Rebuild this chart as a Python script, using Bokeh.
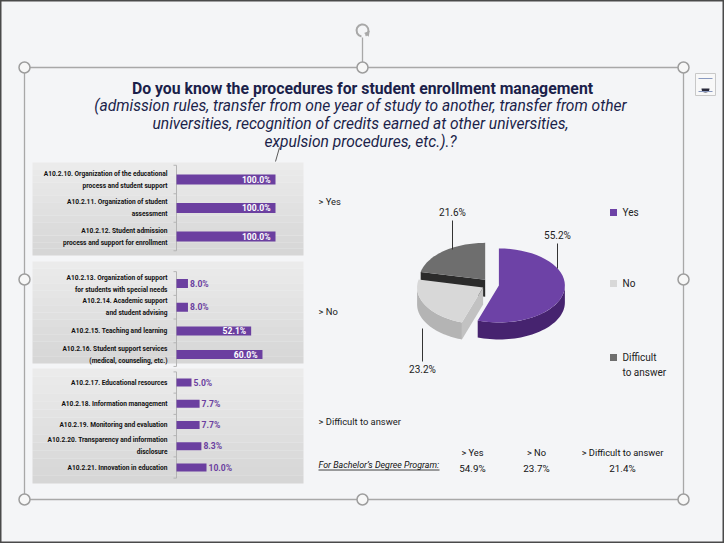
import math
from bokeh.plotting import figure
from bokeh.models import Range1d
from bokeh.core.properties import value
from bokeh.embed import file_html
from bokeh.resources import INLINE

# ---------------- data ----------------
title_bold = "Do you know the procedures for student enrollment management"
title_lines = [
    "(admission rules, transfer from one year of study to another, transfer from other",
    "universities, recognition of credits earned at other universities,",
    "expulsion procedures, etc.).?",
]

yes_labels = ["A10.2.10. Organization of the educational\nprocess and student support",
              "A10.2.11. Organization of student\nassessment",
              "A10.2.12. Student admission\nprocess and support for enrollment"]
yes_values = [100.0, 100.0, 100.0]

no_labels = ["A10.2.13. Organization of support\nfor students with special needs",
             "A10.2.14. Academic support\nand student advising",
             "A10.2.15. Teaching and learning",
             "A10.2.16. Student support services\n(medical, counseling, etc.)"]
no_values = [8.0, 8.0, 52.1, 60.0]

diff_labels = ["A10.2.17. Educational resources",
               "A10.2.18. Information management",
               "A10.2.19. Monitoring and evaluation",
               "A10.2.20. Transparency and information\ndisclosure",
               "A10.2.21. Innovation in education"]
diff_values = [5.0, 7.7, 7.7, 8.3, 10.0]

group_names = ["> Yes", "> No", "> Difficult to answer"]

pie_labels = ["Yes", "No", "Difficult\nto answer"]
pie_values = [55.2, 23.2, 21.6]

bachelor_heads = ["> Yes", "> No", "> Difficult to answer"]
bachelor_values = [54.9, 23.7, 21.4]

# ---------------- style ----------------
PURPLE = "#6b3fa0"
NAVY = "#1b1f4a"
BG = "#f4f5f7"
FONT = value("Roboto")
W, H = 724, 543

p = figure(width=W, height=H, x_range=Range1d(0, W), y_range=Range1d(H, 0),
           output_backend="svg", toolbar_location=None, min_border=0,
           x_axis_location=None, y_axis_location=None)
p.grid.visible = False
p.background_fill_color = BG
p.border_fill_color = BG
p.outline_line_color = "#4a4a4a"
p.outline_line_width = 2

# ---------------- selection frame decoration ----------------
fx0, fx1, fy0, fy1 = 24, 683, 67, 499
p.multi_line(xs=[[fx0, fx1, fx1, fx0, fx0], [362, 362]],
             ys=[[fy0, fy0, fy1, fy1, fy0], [37, fy0]],
             line_color="#a8a8a8", line_width=1.3)
hx = [fx0, 362, fx1, fx0, fx1, fx0, 362, fx1]
hy = [fy0, fy0, fy0, 279, 279, fy1, fy1, fy1]
p.scatter(hx, hy, size=11, fill_color="#f7f7f7", line_color="#9d9d9d", line_width=1.5)
p.arc(x=[362], y=[30], radius=6, radius_units="screen", start_angle=math.radians(-60),
      end_angle=math.radians(260), line_color="#a8a8a8", line_width=2)
p.scatter([367], [33], marker="triangle", size=6, angle=math.radians(200),
          fill_color="#a8a8a8", line_color=None)
# small icon top-right
p.quad(left=[695], right=[715], top=[73], bottom=[95], fill_color="#f8f8f8",
       line_color="#c8c8c8", line_width=1)
p.wedge(x=[705], y=[88], radius=4, radius_units="screen", start_angle=0, end_angle=math.pi,
        direction="clock", fill_color="#2a2a3a", line_color=None)
p.multi_line(xs=[[698, 712], [698, 712]], ys=[[78, 78], [91, 91]], line_color="#8a9ac0", line_width=1)
# stray connector line
p.line([279, 275], [147, 161], line_color="#333333", line_width=0.8)

# ---------------- title ----------------
p.text(x=[362], y=[88], text=[title_bold], text_font=FONT, text_font_size="15.8px",
       text_font_style="bold", text_color=NAVY, text_align="center", text_baseline="middle")
p.text(x=[360] * 3, y=[105, 123, 141], text=title_lines, text_font=FONT,
       text_font_size="15.6px", text_font_style="italic", text_color=NAVY,
       text_align="center", text_baseline="middle")

# ---------------- bar panels ----------------
BASE_X = 176


def lerp_color(c0, c1, t):
    a = [int(c0[i:i + 2], 16) for i in (1, 3, 5)]
    b = [int(c1[i:i + 2], 16) for i in (1, 3, 5)]
    return "#%02x%02x%02x" % tuple(round(a[k] + (b[k] - a[k]) * t) for k in range(3))


panels = [
    # labels, values, panel top, panel bottom, first row center, row spacing, px per %, bar height
    (yes_labels, yes_values, 162, 255, 179, 28.5, 0.99, 10, "g1", 201),
    (no_labels, no_values, 261, 363, 283, 23.7, 1.433, 9, "g2", 311),
    (diff_labels, diff_values, 368, 483, 382, 21.25, 3.0, 8, "g3", 421),
]

for gi, (labs, vals, ptop, pbot, c0, step, k, bh, rname, gy) in enumerate(panels):
    # gradient background
    n = 14
    tops = [ptop + (pbot - ptop) * j / n for j in range(n)]
    bots = [ptop + (pbot - ptop) * (j + 1) / n for j in range(n)]
    cols = [lerp_color("#ebebeb", "#d6d6d6", j / (n - 1)) for j in range(n)]
    p.quad(left=[32] * n, right=[303] * n, top=tops, bottom=bots, fill_color=cols, line_color=None)

    # panel-specific value scale
    start = -BASE_X / k
    p.extra_x_ranges[rname] = Range1d(start, start + W / k)

    ys = [c0 + i * step for i in range(len(vals))]
    # axis line with ticks
    a_top, a_bot = ys[0] - step / 2, ys[-1] + step / 2
    p.segment(x0=[0], y0=[a_top], x1=[0], y1=[a_bot], x_range_name=rname,
              line_color="#b4b4b4", line_width=1)
    tick_y = [a_top + i * step for i in range(len(vals) + 1)]
    p.segment(x0=[0] * len(tick_y), y0=tick_y, x1=[-3 / k] * len(tick_y), y1=tick_y,
              x_range_name=rname, line_color="#b4b4b4", line_width=1)

    p.hbar(y=ys, left=0, right=vals, height=bh, x_range_name=rname,
           fill_color=PURPLE, line_color=None)

    p.text(x=[BASE_X - 9] * len(labs), y=ys, text=labs, text_font=FONT,
           text_font_size="6.6px", text_font_style="bold", text_color="#111111",
           text_align="right", text_baseline="middle", text_line_height=1.5)

    inside = [v * k > 40 for v in vals]
    txt = ["%.1f%%" % v for v in vals]
    iy = [y for y, f in zip(ys, inside) if f]
    if iy:
        p.text(x=[v for v, f in zip(vals, inside) if f], y=iy,
               text=[t for t, f in zip(txt, inside) if f], x_range_name=rname,
               x_offset=-5, text_font=FONT, text_font_size="8.6px", text_font_style="bold",
               text_color="white", text_align="right", text_baseline="middle")
    oy = [y for y, f in zip(ys, inside) if not f]
    if oy:
        p.text(x=[v for v, f in zip(vals, inside) if not f], y=oy,
               text=[t for t, f in zip(txt, inside) if not f], x_range_name=rname,
               x_offset=2, text_font=FONT, text_font_size="8.6px", text_font_style="bold",
               text_color=PURPLE, text_align="left", text_baseline="middle")

    p.text(x=[318], y=[gy], text=[group_names[gi]], text_font=FONT, text_font_size="9.4px",
           text_color="#1a1a1a", text_align="left", text_baseline="middle")

# ---------------- 3D pie ----------------
CX, CY, RX, RY, TH, EXP, EK = 490, 284, 66, 37, 17, 8.5, 0.7
tops_c = ["#6d42a6", "#d8d8d8", "#6e6e6e"]
side_c = ["#46236f", "#b4b4b4", "#3c3c3c"]
face_c = ["#53307f", "#c2c2c2", "#2b2b2b"]

total = sum(pie_values)
bounds = [0.0]
for v in pie_values:
    bounds.append(bounds[-1] + v / total * 360.0)


def arc_pts(ox, oy, a, b, n=40):
    xs, ys = [], []
    for j in range(n + 1):
        t = math.radians(a + (b - a) * j / n)
        xs.append(ox + RX * math.sin(t))
        ys.append(oy - RY * math.cos(t))
    return xs, ys


for i in [2, 1, 0]:
    a0, a1 = bounds[i], bounds[i + 1]
    mid = math.radians((a0 + a1) / 2)
    ox = CX + EXP * math.sin(mid)
    oy = CY - EXP * EK * math.cos(mid)
    # radial cut faces
    for ang, nrm in [(a0, a0 - 90), (a1, a1 + 90)]:
        if math.cos(math.radians(nrm)) < -0.02:
            rx_ = ox + RX * math.sin(math.radians(ang))
            ry_ = oy - RY * math.cos(math.radians(ang))
            p.patch([ox, rx_, rx_, ox], [oy, ry_, ry_ + TH, oy + TH],
                    fill_color=face_c[i], line_color=None)
    # outer side
    s, e = max(a0, 90), min(a1, 270)
    if s < e:
        xs, ys = arc_pts(ox, oy, s, e)
        p.patch(xs + xs[::-1], ys + [y + TH for y in ys[::-1]],
                fill_color=side_c[i], line_color=None)
    # top face
    xs, ys = arc_pts(ox, oy, a0, a1)
    p.patch([ox] + xs, [oy] + ys, fill_color=tops_c[i], line_color=None)

# pie labels with leader lines
lab_xy = [(557, 235), (422, 369), (452, 212)]
lead = [((557, 243), (557, 268)), ((422, 361), (422, 328)), ((452, 220), (452, 249))]
p.segment(x0=[l[0][0] for l in lead], y0=[l[0][1] for l in lead],
          x1=[l[1][0] for l in lead], y1=[l[1][1] for l in lead],
          line_color="#333333", line_width=1)
p.text(x=[q[0] for q in lab_xy], y=[q[1] for q in lab_xy],
       text=["%.1f%%" % v for v in pie_values], text_font=FONT, text_font_size="10px",
       text_color="#222222", text_align="center", text_baseline="middle")

# legend
leg_y = [212, 283, 357]
p.scatter([613] * 3, leg_y, marker="square", size=7, fill_color=tops_c, line_color=None)
p.text(x=[622] * 3, y=leg_y, text=pie_labels, text_font=FONT, text_font_size="10px",
       text_color="#222222", text_align="left", text_baseline="top", y_offset=-6,
       text_line_height=1.4)

# ---------------- bachelor table ----------------
p.text(x=[318], y=[464], text=["For Bachelor\u2019s Degree Program:"], text_font=FONT,
       text_font_size="8.9px", text_font_style="italic", text_color="#111111",
       text_align="left", text_baseline="middle")
p.line([318, 439], [469.5, 469.5], line_color="#111111", line_width=0.8)
col_x = [472, 536, 622]
p.text(x=col_x, y=[452] * 3, text=bachelor_heads, text_font=FONT, text_font_size="9.3px",
       text_color="#111111", text_align="center", text_baseline="middle")
p.text(x=col_x, y=[468] * 3, text=["%.1f%%" % v for v in bachelor_values], text_font=FONT,
       text_font_size="9.8px", text_color="#111111", text_align="center", text_baseline="middle")

open("out.html", "w").write(file_html(p, INLINE))
